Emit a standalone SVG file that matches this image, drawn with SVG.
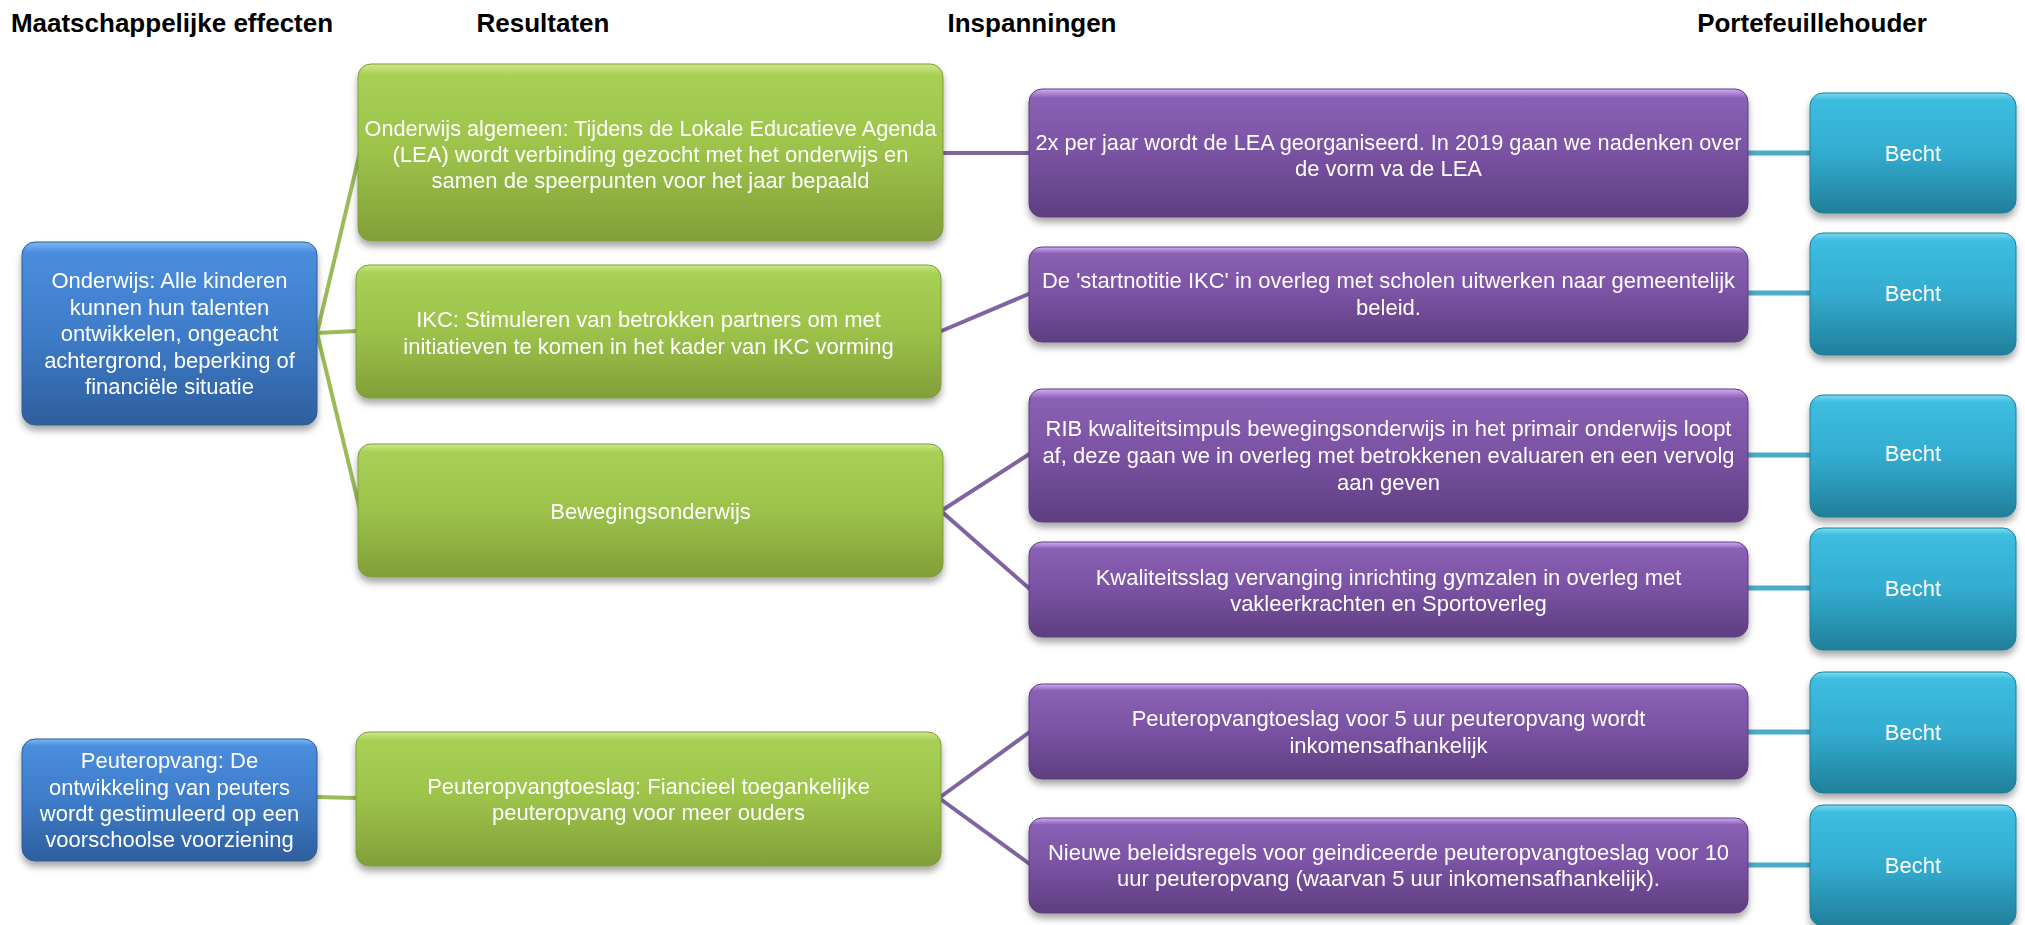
<svg xmlns="http://www.w3.org/2000/svg" width="2025" height="925" viewBox="0 0 2025 925">
<style>
.hdr{font-family:"Liberation Sans",Arial,sans-serif;font-weight:bold;font-size:26px;fill:#000;text-anchor:middle}
.t{font-family:"Liberation Sans",Arial,sans-serif;font-size:22px;fill:#fff;text-anchor:middle}
.box{stroke-width:1}
.blue{fill:url(#gBlue);stroke:#2c5d99}
.green{fill:url(#gGreen);stroke:#7f9d3a}
.purple{fill:url(#gPurple);stroke:#5c3d7c}
.teal{fill:url(#gTeal);stroke:#1f7f98}
.cg{stroke:#9bbb59;stroke-width:4;fill:none}
.cp{stroke:#8064a2;stroke-width:4;fill:none}
.ct{stroke:#4bacc6;stroke-width:5;fill:none}
</style>
<defs>
<linearGradient id="gBlue" x1="0" y1="0" x2="0" y2="1">
<stop offset="0" stop-color="#7ab8f5"/><stop offset="0.06" stop-color="#4a8ddc"/><stop offset="0.5" stop-color="#3e7cc9"/><stop offset="1" stop-color="#2e5f9e"/>
</linearGradient>
<linearGradient id="gGreen" x1="0" y1="0" x2="0" y2="1">
<stop offset="0" stop-color="#cfe98a"/><stop offset="0.06" stop-color="#a8d055"/><stop offset="0.5" stop-color="#9cc24a"/><stop offset="1" stop-color="#819f39"/>
</linearGradient>
<linearGradient id="gPurple" x1="0" y1="0" x2="0" y2="1">
<stop offset="0" stop-color="#d2acf5"/><stop offset="0.07" stop-color="#8a60b4"/><stop offset="0.5" stop-color="#7a52a3"/><stop offset="1" stop-color="#5e3e80"/>
</linearGradient>
<linearGradient id="gTeal" x1="0" y1="0" x2="0" y2="1">
<stop offset="0" stop-color="#7adaf3"/><stop offset="0.06" stop-color="#3dbde0"/><stop offset="0.5" stop-color="#33acd0"/><stop offset="1" stop-color="#217f9a"/>
</linearGradient>
<filter id="sh" x="-5%" y="-5%" width="110%" height="125%">
<feDropShadow dx="0" dy="5" stdDeviation="3.5" flood-color="#000" flood-opacity="0.35"/>
</filter>
</defs>
<rect width="2025" height="925" fill="#fff"/>

<g id="headers">
<text class="hdr" x="172" y="32">Maatschappelijke effecten</text>
<text class="hdr" x="543" y="32">Resultaten</text>
<text class="hdr" x="1032" y="32">Inspanningen</text>
<text class="hdr" x="1812" y="32">Portefeuillehouder</text>
</g>

<g id="connectors">
<line class="cg" x1="317" y1="333" x2="360" y2="152"/>
<line class="cg" x1="317" y1="333" x2="357" y2="331"/>
<line class="cg" x1="317" y1="333" x2="360" y2="510"/>
<line class="cg" x1="317" y1="797" x2="357" y2="798"/>
<line class="cp" x1="941" y1="153" x2="1031" y2="153"/>
<line class="cp" x1="939" y1="332" x2="1031" y2="293"/>
<line class="cp" x1="941" y1="511" x2="1031" y2="453"/>
<line class="cp" x1="941" y1="511" x2="1031" y2="590"/>
<line class="cp" x1="939" y1="798" x2="1031" y2="731"/>
<line class="cp" x1="939" y1="798" x2="1031" y2="865"/>
<line class="ct" x1="1746" y1="153" x2="1812" y2="153"/>
<line class="ct" x1="1746" y1="293" x2="1812" y2="293"/>
<line class="ct" x1="1746" y1="455" x2="1812" y2="455"/>
<line class="ct" x1="1746" y1="588" x2="1812" y2="588"/>
<line class="ct" x1="1746" y1="732" x2="1812" y2="732"/>
<line class="ct" x1="1746" y1="865" x2="1812" y2="865"/>
</g>

<g id="effect-onderwijs" filter="url(#sh)">
<rect class="box blue" x="22" y="242" width="295" height="183" rx="13"/>
<text class="t" x="169.5" y="288">Onderwijs: Alle kinderen</text>
<text class="t" x="169.5" y="315">kunnen hun talenten</text>
<text class="t" x="169.5" y="341">ontwikkelen, ongeacht</text>
<text class="t" x="169.5" y="368">achtergrond, beperking of</text>
<text class="t" x="169.5" y="394">financiële situatie</text>
</g>
<g id="effect-peuteropvang" filter="url(#sh)">
<rect class="box blue" x="22" y="739" width="295" height="122" rx="13"/>
<text class="t" x="169.5" y="768">Peuteropvang: De</text>
<text class="t" x="169.5" y="795">ontwikkeling van peuters</text>
<text class="t" x="169.5" y="821">wordt gestimuleerd op een</text>
<text class="t" x="169.5" y="847">voorschoolse voorziening</text>
</g>

<g id="res-lea" filter="url(#sh)">
<rect class="box green" x="358" y="64" width="585" height="177" rx="13"/>
<text class="t" x="650.5" y="136" textLength="572" lengthAdjust="spacingAndGlyphs">Onderwijs algemeen: Tijdens de Lokale Educatieve Agenda</text>
<text class="t" x="650.5" y="162">(LEA) wordt verbinding gezocht met het onderwijs en</text>
<text class="t" x="650.5" y="188">samen de speerpunten voor het jaar bepaald</text>
</g>
<g id="res-ikc" filter="url(#sh)">
<rect class="box green" x="356" y="265" width="585" height="133" rx="13"/>
<text class="t" x="648.5" y="327">IKC: Stimuleren van betrokken partners om met</text>
<text class="t" x="648.5" y="354">initiatieven te komen in het kader van IKC vorming</text>
</g>
<g id="res-beweging" filter="url(#sh)">
<rect class="box green" x="358" y="444" width="585" height="133" rx="13"/>
<text class="t" x="650.5" y="519">Bewegingsonderwijs</text>
</g>
<g id="res-toeslag" filter="url(#sh)">
<rect class="box green" x="356" y="732" width="585" height="134" rx="13"/>
<text class="t" x="648.5" y="794">Peuteropvangtoeslag: Fiancieel toegankelijke</text>
<text class="t" x="648.5" y="820">peuteropvang voor meer ouders</text>
</g>

<g id="insp-lea" filter="url(#sh)">
<rect class="box purple" x="1029" y="89" width="719" height="128" rx="13"/>
<text class="t" x="1388.5" y="150" textLength="706" lengthAdjust="spacingAndGlyphs">2x per jaar wordt de LEA georganiseerd. In 2019 gaan we nadenken over</text>
<text class="t" x="1388.5" y="176">de vorm va de LEA</text>
</g>
<g id="insp-ikc" filter="url(#sh)">
<rect class="box purple" x="1029" y="247" width="719" height="95" rx="13"/>
<text class="t" x="1388.5" y="288">De 'startnotitie IKC' in overleg met scholen uitwerken naar gemeentelijk</text>
<text class="t" x="1388.5" y="315">beleid.</text>
</g>
<g id="insp-rib" filter="url(#sh)">
<rect class="box purple" x="1029" y="389" width="719" height="133" rx="13"/>
<text class="t" x="1388.5" y="436">RIB kwaliteitsimpuls bewegingsonderwijs in het primair onderwijs loopt</text>
<text class="t" x="1388.5" y="463">af, deze gaan we in overleg met betrokkenen evaluaren en een vervolg</text>
<text class="t" x="1388.5" y="490">aan geven</text>
</g>
<g id="insp-gymzalen" filter="url(#sh)">
<rect class="box purple" x="1029" y="542" width="719" height="95" rx="13"/>
<text class="t" x="1388.5" y="585">Kwaliteitsslag vervanging inrichting gymzalen in overleg met</text>
<text class="t" x="1388.5" y="611">vakleerkrachten en Sportoverleg</text>
</g>
<g id="insp-toeslag5" filter="url(#sh)">
<rect class="box purple" x="1029" y="684" width="719" height="95" rx="13"/>
<text class="t" x="1388.5" y="726">Peuteropvangtoeslag voor 5 uur peuteropvang wordt</text>
<text class="t" x="1388.5" y="753">inkomensafhankelijk</text>
</g>
<g id="insp-beleidsregels" filter="url(#sh)">
<rect class="box purple" x="1029" y="818" width="719" height="95" rx="13"/>
<text class="t" x="1388.5" y="860">Nieuwe beleidsregels voor geindiceerde peuteropvangtoeslag voor 10</text>
<text class="t" x="1388.5" y="886">uur peuteropvang (waarvan 5 uur inkomensafhankelijk).</text>
</g>

<g id="port-1" filter="url(#sh)">
<rect class="box teal" x="1810" y="93" width="206" height="120" rx="13"/>
<text class="t" x="1913" y="161">Becht</text>
</g>
<g id="port-2" filter="url(#sh)">
<rect class="box teal" x="1810" y="233" width="206" height="122" rx="13"/>
<text class="t" x="1913" y="301">Becht</text>
</g>
<g id="port-3" filter="url(#sh)">
<rect class="box teal" x="1810" y="395" width="206" height="122" rx="13"/>
<text class="t" x="1913" y="461">Becht</text>
</g>
<g id="port-4" filter="url(#sh)">
<rect class="box teal" x="1810" y="528" width="206" height="122" rx="13"/>
<text class="t" x="1913" y="596">Becht</text>
</g>
<g id="port-5" filter="url(#sh)">
<rect class="box teal" x="1810" y="672" width="206" height="121" rx="13"/>
<text class="t" x="1913" y="740">Becht</text>
</g>
<g id="port-6" filter="url(#sh)">
<rect class="box teal" x="1810" y="805" width="206" height="121" rx="13"/>
<text class="t" x="1913" y="873">Becht</text>
</g>
</svg>
